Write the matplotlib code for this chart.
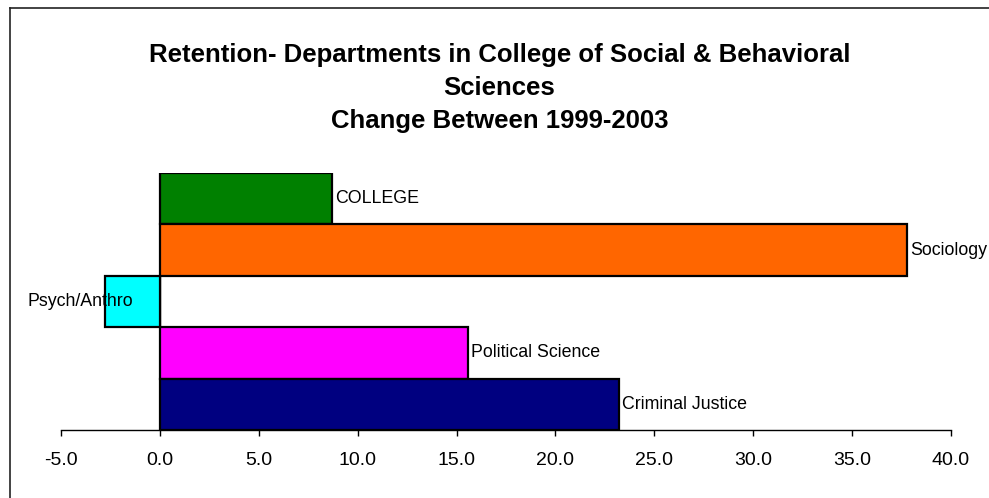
import matplotlib
matplotlib.use('Agg')

import matplotlib.pyplot as plt
from matplotlib.lines import Line2D

plt.rcParams['font.family'] = ['Liberation Sans', 'DejaVu Sans']

# Data
departments = ['COLLEGE', 'Sociology', 'Psych/Anthro', 'Political Science', 'Criminal Justice']
change = [8.7, 37.8, -2.8, 15.6, 23.2]
bar_colors = ['#008000', '#FF6600', '#00FFFF', '#FF00FF', '#000080']
x_ticks = [-5, 0, 5, 10, 15, 20, 25, 30, 35, 40]

W, H = 989, 498
fig = plt.figure(figsize=(W / 100, H / 100), dpi=100)
fig.patch.set_facecolor('white')

# plot area (pixel bounds)
left, right, top, bottom = 61, 951, 173, 430
ax = fig.add_axes([left / W, 1 - bottom / H, (right - left) / W, (bottom - top) / H])

ypos = list(range(len(departments)))
ax.barh(ypos, change, height=1.0, color=bar_colors,
        edgecolor='black', linewidth=1.6, zorder=3)
ax.axvline(0, color='black', linewidth=1.0, zorder=2)

for y, v, name in zip(ypos, change, departments):
    if v >= 0:
        ax.text(v + 0.15, y, name, ha='left', va='center', fontsize=12.8, zorder=4)
    else:
        ax.text(v + 1.45, y, name, ha='right', va='center', fontsize=12.8, zorder=4)

ax.set_xlim(-5, 40)
ax.set_ylim(len(departments) - 0.5, -0.5)
ax.set_xticks(x_ticks)
ax.set_xticklabels([f'{t:.1f}' for t in x_ticks], fontsize=14)
ax.set_yticks([])
ax.tick_params(axis='x', direction='out', length=4, width=1, pad=12)

for side in ['top', 'right', 'left']:
    ax.spines[side].set_visible(False)
ax.spines['bottom'].set_linewidth(1.0)

# title
fig.text(0.505, 1 - 88 / H,
         'Retention- Departments in College of Social & Behavioral\nSciences\nChange Between 1999-2003',
         ha='center', va='center', fontsize=18.5, fontweight='bold', linespacing=1.45)

# chart area border (only top and left edges fall inside the image)
fig.add_artist(Line2D([10 / W, 10 / W], [0, 1 - 8 / H], transform=fig.transFigure,
                      color='#222222', linewidth=1.2))
fig.add_artist(Line2D([10 / W, 1], [1 - 8 / H, 1 - 8 / H], transform=fig.transFigure,
                      color='#222222', linewidth=1.2))

plt.savefig('out.png', dpi=100, facecolor='white')
plt.close()
